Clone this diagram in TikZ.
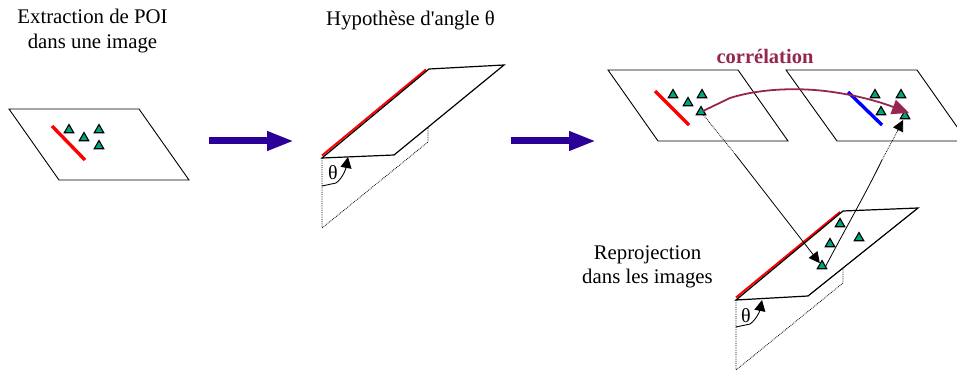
\documentclass[tikz,border=0pt]{standalone}
\usepackage{fontspec}
\setmainfont{Liberation Serif}
\newfontfamily\plainserif{Liberation Serif}
\usetikzlibrary{arrows.meta,shapes.geometric}
\definecolor{bigblue}{HTML}{2A0099}
\definecolor{corr}{HTML}{96264F}
\definecolor{poifill}{HTML}{00A67E}

\begin{document}
\begin{tikzpicture}[
    x=1pt, y=-1pt,
    label/.style={align=center, font=\fontsize{20.8}{24.3}\selectfont},
    poi/.style={draw, regular polygon, regular polygon sides=3, fill=poifill, line width=1.1pt, inner sep=0pt, minimum size=11pt},
    plane/.style={draw, line width=0.9pt, line join=miter},
    wing/.style={draw, line width=1.2pt},
    fold/.style={draw, densely dotted, line width=0.8pt},
    seg/.style={line width=3.4pt},
    bigarrow/.style={draw=bigblue, line width=7pt, -{Triangle[length=27pt,width=18pt,fill=bigblue]}},
    >={Triangle[length=11pt,width=11pt]}
]
\clip (0,0) rectangle (957,371);

% texts
\node[label] (poitext) at (92.5,31) {Extraction de POI\\dans une image};
\node[label] (angletext) at (410.5,20) {Hypothèse d{\plainserif '}angle θ};
\node[label] (reprotext) at (647.5,267) {Reprojection\\dans les images};
\node[font=\bfseries\fontsize{20.5}{24}\selectfont, text=corr] (corrtext) at (765,56) {corrélation};
\node[font=\fontsize{20}{22}\selectfont] (thetaA) at (333,173) {θ};
\node[font=\fontsize{20}{22}\selectfont] (thetaB) at (746,316) {θ};

% first image
\draw[plane] (9,109) -- (139,109) -- (189,180) -- (59,180) -- cycle;
\draw[seg, red] (52,126) -- (85,160);
\node[poi] (a1) at (69,130) {};
\node[poi] (a2) at (84,138) {};
\node[poi] (a3) at (99,130) {};
\node[poi] (a4) at (99,146) {};

% big arrows
\coordinate (arrowAs) at (209,141);
\coordinate (arrowAe) at (294,141);
\coordinate (arrowBs) at (511,141);
\coordinate (arrowBe) at (596,141);
\draw[bigarrow] (arrowAs) -- (arrowAe);
\draw[bigarrow] (arrowBs) -- (arrowBe);

% angle hypothesis
\draw[fold] (322,158) -- (322,228) -- (428,142) -- (428,128);
\draw[line width=2pt, red] (322,155.5) -- (426,69.5);
\draw[wing] (322,158) -- (429,69) -- (504,65) -- (394,155) -- cycle;
\coordinate (arcAs) at (322,186);
\coordinate (arcAe) at (348,157);
\draw[->, line width=0.9pt] (arcAs) -- (336,183) .. controls (343,178) and (346,168) .. (arcAe);

% two images
\draw[plane] (608,70) -- (738,70) -- (788,141) -- (658,141) -- cycle;
\draw[plane] (786,70) -- (917,70) -- (967,141) -- (837,141) -- cycle;
\draw[seg, red] (655,91) -- (689,125);
\draw[seg, blue] (848,92) -- (882,125);
\node[poi] (b1) at (673,95) {};
\node[poi] (b2) at (688,103) {};
\node[poi] (b3) at (702,95) {};
\node[poi] (b4) at (701,112) {};
\node[poi] (c1) at (875,95) {};
\node[poi] (c2) at (901,95) {};
\node[poi] (c3) at (881,112) {};
\node[poi] (c4) at (905,116) {};

% reprojection
\draw[fold] (736,300) -- (736,370) -- (843,283) -- (843,268);
\draw[line width=2pt, red] (736,297.5) -- (840,212);
\draw[wing] (736,300) -- (843,211) -- (918,208) -- (808,296) -- cycle;
\coordinate (arcBs) at (736,327);
\coordinate (arcBe) at (762,300);
\draw[->, line width=0.9pt] (arcBs) -- (750,324) .. controls (757,319) and (760,310) .. (arcBe);
\node[poi] (d1) at (840,224) {};
\node[poi] (d2) at (830,244) {};
\node[poi] (d3) at (859,238) {};
\node[poi] (d4) at (822,266) {};

% reprojection rays
\coordinate (rayA) at (735,154);
\coordinate (rayC) at (882,160);
\coordinate (rayB) at (897.5,131);
\coordinate (rayD) at (903,120);
\draw[fold] (b4) -- (rayA);
\draw[->, line width=0.8pt] (rayA) -- (d4);
\draw[line width=0.8pt] (d4.east) .. controls (843,233) and (865,195) .. (rayC);
\draw[fold] (rayC) -- (rayB);
\draw[->, line width=0.8pt] (rayB) -- (rayD);

% correlation curve
\coordinate (corrS) at (703,111);
\coordinate (corrE) at (909,113);
\draw[corr, line width=1.8pt, -{Triangle[length=17pt,width=15pt]}] (corrS) -- (730,98) .. controls (755,90) and (790,87) .. (825,91) .. controls (850,94) and (875,100) .. (corrE);
\end{tikzpicture}
\end{document}
